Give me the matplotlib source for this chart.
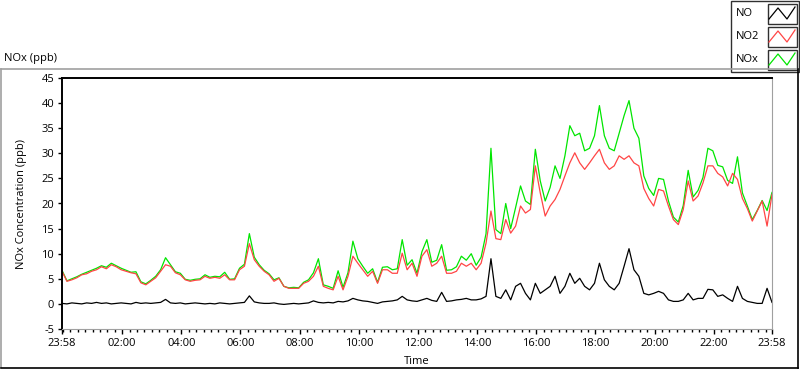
import matplotlib
matplotlib.use('Agg')
import matplotlib.pyplot as plt
from matplotlib.patches import Rectangle

plt.rcParams['font.family'] = ['Open Sans', 'DejaVu Sans']
plt.rcParams['axes.unicode_minus'] = False

# minutes after 23:58, one reading every 10 min
minutes = list(range(0, 1441, 10))

no2 = [6.5, 4.5, 4.8, 5.2, 5.8, 6.0,
       6.5, 6.8, 7.4, 7.0, 7.8, 7.4,
       6.8, 6.5, 6.2, 6.0, 4.2, 3.8,
       4.5, 5.2, 6.5, 7.8, 7.5, 6.2,
       5.8, 4.8, 4.5, 4.7, 4.8, 5.5,
       5.1, 5.3, 5.1, 5.8, 4.8, 4.8,
       6.8, 7.5, 12.0, 8.8, 7.5, 6.5,
       5.8, 4.5, 5.1, 3.5, 3.1, 3.1,
       3.1, 4.1, 4.5, 5.5, 7.5, 3.5,
       3.1, 2.8, 5.5, 2.8, 5.5, 9.5,
       8.1, 6.8, 5.5, 6.5, 4.1, 6.8,
       6.8, 6.1, 6.1, 10.1, 6.8, 8.1,
       5.5, 9.5, 10.8, 7.5, 8.1, 9.5,
       6.1, 6.1, 6.5, 8.1, 7.5, 8.1,
       6.8, 8.1, 12.1, 18.5, 13.0, 12.8,
       16.8, 14.1, 15.5, 19.5, 18.1, 18.8,
       27.5, 22.1, 17.5, 19.5, 20.8, 22.8,
       25.5, 28.1, 30.1, 28.1, 26.8, 28.1,
       29.5, 30.8, 28.1, 26.8, 27.5, 29.5,
       28.8, 29.5, 28.1, 27.5, 23.0, 21.0,
       19.5, 22.8, 22.5, 19.5, 16.8, 15.8,
       18.8, 24.5, 20.5, 21.5, 24.1, 27.5,
       27.5, 26.0, 25.3, 23.5, 26.0, 24.8,
       21.0, 19.0, 16.5, 18.5, 20.5, 15.5,
       21.8]

nox = [6.7, 4.6, 5.0, 5.4, 5.9, 6.3,
       6.7, 7.1, 7.6, 7.3, 8.1, 7.6,
       7.1, 6.7, 6.3, 6.4, 4.4, 4.0,
       4.7, 5.5, 6.8, 9.2, 7.8, 6.4,
       6.1, 4.9, 4.7, 4.9, 5.0, 5.8,
       5.3, 5.5, 5.4, 6.3, 4.9, 5.0,
       7.1, 7.9, 14.0, 9.3, 7.8, 6.7,
       6.0, 4.8, 5.2, 3.5, 3.2, 3.3,
       3.2, 4.3, 4.8, 6.2, 9.0, 3.8,
       3.5, 3.1, 6.6, 3.3, 6.2, 12.5,
       9.0, 7.5, 6.1, 7.0, 4.3, 7.3,
       7.4, 6.8, 7.0, 12.8, 7.7, 8.8,
       6.1, 10.4, 12.8, 8.3, 8.7, 11.8,
       6.7, 6.8, 7.4, 9.5, 8.7, 10.0,
       7.7, 9.3, 14.0, 31.0, 14.8, 14.0,
       20.0, 15.0, 19.2, 23.5, 20.5, 19.8,
       30.8, 24.5, 20.5, 23.2, 27.5, 25.0,
       29.5, 35.5, 33.5, 34.0, 30.5, 31.0,
       33.5, 39.5, 33.5, 31.0, 30.5, 34.0,
       37.5, 40.5, 35.0, 33.0, 25.5, 23.0,
       21.6, 25.0, 24.8, 20.5, 17.3, 16.3,
       19.6, 26.6, 21.3, 22.6, 25.2, 31.0,
       30.5, 27.6, 27.3, 24.6, 24.0, 29.3,
       22.1, 19.5, 16.8, 18.6, 20.6, 18.6,
       22.2]

no = [0.1, 0.0, 0.2, 0.1, 0.0, 0.2,
      0.1, 0.3, 0.1, 0.2, 0.0, 0.1,
      0.2, 0.1, 0.0, 0.3, 0.1, 0.2,
      0.1, 0.2, 0.3, 0.9, 0.2, 0.1,
      0.2, 0.0, 0.1, 0.2, 0.1, 0.0,
      0.1, 0.0, 0.2, 0.1, 0.0, 0.1,
      0.2, 0.3, 1.6, 0.4, 0.2, 0.1,
      0.1, 0.2, 0.0, -0.1, 0.0, 0.1,
      0.0, 0.1, 0.2, 0.6, 0.3, 0.2,
      0.3, 0.2, 0.5, 0.4, 0.6, 1.1,
      0.8, 0.6, 0.5, 0.3, 0.1, 0.4,
      0.5, 0.6, 0.8, 1.5, 0.8, 0.6,
      0.5, 0.8, 1.1, 0.7, 0.5, 2.3,
      0.5, 0.6, 0.8, 0.9, 1.1, 0.8,
      0.8, 1.0, 1.5, 9.0, 1.5, 1.1,
      2.8, 0.8, 3.5, 4.1, 2.1, 0.8,
      4.1, 2.1, 2.8, 3.5, 5.5, 2.1,
      3.5, 6.1, 4.1, 5.1, 3.5, 2.8,
      4.1, 8.1, 4.8, 3.5, 2.8, 4.1,
      7.5, 11.0, 6.8, 5.5, 2.1, 1.8,
      2.1, 2.5, 2.1, 0.8, 0.5, 0.5,
      0.8, 2.1, 0.8, 1.1, 1.1, 2.9,
      2.8, 1.5, 1.8, 1.1, 0.5, 3.5,
      1.1, 0.5, 0.3, 0.1, 0.1, 3.1,
      0.3]

tick_minutes = [0, 122, 242, 362, 482, 602, 722, 842, 962, 1082, 1202, 1322, 1440]
tick_labels = ['23:58', '02:00', '04:00', '06:00', '08:00', '10:00', '12:00',
               '14:00', '16:00', '18:00', '20:00', '22:00', '23:58']
series_names = ['NO', 'NO2', 'NOx']
series_colors = ['black', '#ff4545', '#00e600']

fig = plt.figure(figsize=(8, 3.69), dpi=100)
ax = fig.add_axes([62/800, 40/369, 710/800, 251/369], zorder=1)

ax.plot(minutes, nox, color=series_colors[2], lw=0.9)
ax.plot(minutes, no2, color=series_colors[1], lw=0.9)
ax.plot(minutes, no, color=series_colors[0], lw=0.9)

ax.set_xlim(0, 1440)
ax.set_ylim(-5, 45)
ax.set_yticks(range(-5, 46, 5))
ax.set_xticks(tick_minutes)
ax.set_xticklabels(tick_labels)
ax.set_xticks(list(range(2, 1440, 15)), minor=True)
ax.tick_params(axis='x', which='major', length=3.6, width=1, pad=3, labelsize=8)
ax.tick_params(axis='x', which='minor', length=2.2, width=1)
ax.tick_params(axis='y', length=3.2, width=1, pad=2.5, labelsize=8)

ax.spines['left'].set_linewidth(1.4)
ax.spines['top'].set_linewidth(1.4)
ax.spines['right'].set_color('#a0a0a0')
ax.spines['bottom'].set_color('#a0a0a0')

# overlay in pixel coords for frame, labels and legend
ov = fig.add_axes([0, 0, 1, 1], zorder=5)
ov.set_xlim(0, 800)
ov.set_ylim(369, 0)
ov.axis('off')
ov.patch.set_visible(False)

ov.plot([1, 1], [69, 367], color='#a0a0a0', lw=1.2)
ov.plot([1, 797], [69, 69], color='#a0a0a0', lw=1.2)
ov.plot([1, 797.5], [367.5, 367.5], color='black', lw=1.2)
ov.plot([797.5, 797.5], [69, 367.5], color='black', lw=1.2)

ov.text(4, 58, 'NOx (ppb)', fontsize=8, ha='left', va='center')
ov.text(22, 204, 'NOx Concentration (ppb)', fontsize=8, rotation=90,
        ha='center', va='center')
ov.text(417, 361, 'Time', fontsize=8, ha='center', va='center')

ov.add_patch(Rectangle((730.5, 0.5), 68, 71.5, facecolor='white',
                       edgecolor='#303030', lw=1))
for i, name in enumerate(series_names):
    top = 3 + 23 * i
    ov.text(736, top + 10.5, name, fontsize=8, ha='left', va='center')
    ov.add_patch(Rectangle((767.5, top + 0.5), 29, 20, facecolor='white',
                           edgecolor='#303030', lw=1))
    ov.plot([769, 778, 787, 795], [top + 16, top + 5, top + 16, top + 4],
            color=series_colors[i], lw=0.9)

fig.savefig('out.png', dpi=100)
